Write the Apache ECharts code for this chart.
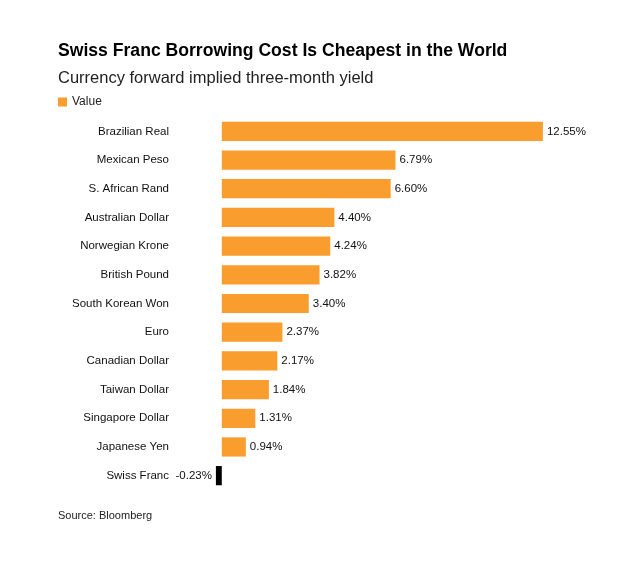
<!DOCTYPE html>
<html>
  <head>
    <meta charset="utf-8">
    <script src="https://cdn.jsdelivr.net/npm/echarts@6/dist/echarts.min.js"></script>
    <style>
      html, body { margin: 0; padding: 0; background: #fff; }
    </style>
  </head>
  <body>
    <div id="main" style="width: 619px;height:577px;"></div>
    <script type="text/javascript">
      // currencies, top to bottom as drawn
      var currencies = ['Brazilian Real', 'Mexican Peso', 'S. African Rand', 'Australian Dollar',
        'Norwegian Krone', 'British Pound', 'South Korean Won', 'Euro', 'Canadian Dollar',
        'Taiwan Dollar', 'Singapore Dollar', 'Japanese Yen', 'Swiss Franc'];
      // implied three-month yield, %
      var yields = [12.55, 6.79, 6.60, 4.40, 4.24, 3.82, 3.40, 2.37, 2.17, 1.84, 1.31, 0.94, -0.23];

      var myChart = echarts.init(document.getElementById('main'));
      var font = '"Liberation Sans", Arial, sans-serif';

      var option = {
        backgroundColor: '#fff',
        animation: false,
        textStyle: { fontFamily: font },
        title: [{
          text: 'Swiss Franc Borrowing Cost Is Cheapest in the World',
          left: 53,
          top: 37,
          textStyle: { fontSize: 17.6, fontWeight: 'bold', color: '#000', fontFamily: font }
        }, {
          text: 'Currency forward implied three-month yield',
          left: 53,
          top: 65,
          textStyle: { fontSize: 16.5, fontWeight: 'normal', color: '#222', fontFamily: font }
        }, {
          text: 'Source: Bloomberg',
          left: 53,
          top: 505,
          textStyle: { fontSize: 11, fontWeight: 'normal', color: '#222', fontFamily: font }
        }],
        legend: {
          left: 53,
          top: 91,
          itemWidth: 9,
          itemHeight: 9,
          itemGap: 6,
          icon: 'rect',
          textStyle: { fontSize: 12, color: '#222', fontFamily: font },
          data: ['Value']
        },
        grid: {
          left: 209,
          width: 371,
          top: 117,
          height: 373
        },
        xAxis: {
          type: 'value',
          min: -0.5,
          max: 14,
          show: false
        },
        yAxis: {
          type: 'category',
          inverse: true,
          data: currencies,
          axisLine: { show: false },
          axisTick: { show: false },
          axisLabel: { margin: 40, fontSize: 11.5, color: '#111', fontFamily: font }
        },
        series: [{
          name: 'Value',
          type: 'bar',
          barCategoryGap: '33%',
          itemStyle: { color: '#f99d2f' },
          data: yields.map(function (v) {
            return v < 0
              ? { value: v, itemStyle: { color: '#000' }, label: { position: 'left' } }
              : v;
          }),
          label: {
            show: true,
            position: 'right',
            distance: 4,
            fontSize: 11.5,
            color: '#111',
            fontFamily: font,
            formatter: function (p) { return p.value.toFixed(2) + '%'; }
          }
        }]
      };
      myChart.setOption(option);
    </script>
  </body>
</html>
